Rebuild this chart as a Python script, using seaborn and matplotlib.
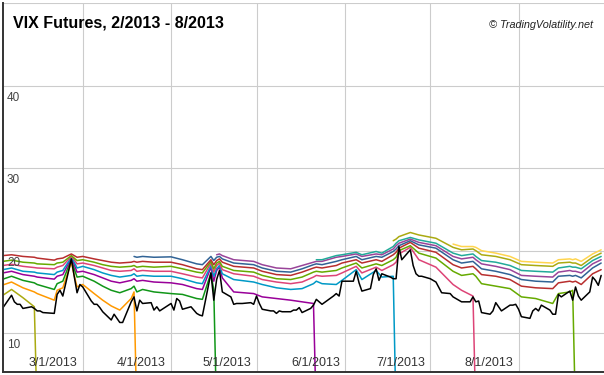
import numpy as np
import pandas as pd
import matplotlib
matplotlib.use("Agg")
import matplotlib.pyplot as plt
from matplotlib.transforms import ScaledTranslation
import seaborn as sns

nan = float("nan")

# ---------------- data ----------------
title = "VIX Futures, 2/2013 - 8/2013"
credit = "\u00a9 TradingVolatility.net"

x_tick_dates = ["2013-03-01", "2013-04-01", "2013-05-01", "2013-06-01", "2013-07-01", "2013-08-01"]
x_tick_labels = ["3/1/2013", "4/1/2013", "5/1/2013", "6/1/2013", "7/1/2013", "8/1/2013"]
y_ticks = [10, 20, 30, 40, 50]
y_tick_labels = ["10", "20", "30", "40", ""]

holidays = ["2013-02-18", "2013-03-29", "2013-05-27", "2013-07-04"]

vix_feb = [13.1, 14.6, 13.8, 13.5, 13.5, 13.0, 13.2, 13.0, 12.7, 12.7, 12.5, 12.4, 14.7, 15.2, 14.5, 19.0, 16.9, 14.9, 15.9]
vix_mar = [15.6, 13.9, 13.5, 13.5, 13.1, 12.6, 11.6, 12.3, 11.8, 11.3, 11.3, 13.8, 14.4, 12.7, 14.0, 13.6, 13.7, 12.8, 13.2, 12.7]
vix_apr = [13.6, 12.8, 14.2, 13.9, 12.9, 13.2, 12.8, 12.4, 12.2, 12.1, 17.3, 14.0, 16.5, 17.6, 15.0, 14.4, 13.5, 13.6, 13.6, 13.6, 13.7, 13.5]
vix_may = [14.5, 13.6, 12.9, 12.7, 12.7, 12.4, 12.7, 12.6, 12.6, 12.8, 12.8, 13.1, 12.5, 13.0, 13.4, 14.1, 13.8, 13.5, 14.5, 14.8, 14.5, 16.3]
vix_jun = [16.3, 16.3, 17.5, 16.1, 15.1, 15.4, 17.1, 17.8, 16.4, 17.2, 16.8, 16.6, 16.6, 20.5, 18.9, 20.1, 18.2, 17.2, 16.9, 16.9]
vix_jul = [16.6, 16.4, 16.2, 14.9, 14.8, 14.4, 14.2, 14.0, 13.8, 13.8, 14.4, 13.8, 13.9, 12.5, 12.3, 12.7, 13.7, 13.2, 12.7, 13.4, 13.4, 13.5]
vix_aug = [12.9, 12.0, 11.8, 12.7, 13.0, 12.7, 13.4, 12.8, 12.3, 12.3, 14.7, 14.4, 15.1, 14.0, 15.6, 14.5, 14.0, 15.0, 16.8, 16.4, 15.8, 17.0]

fut_dates = ["2013-02-01", "2013-02-04", "2013-02-08", "2013-02-12", "2013-02-13", "2013-02-19", "2013-02-20", "2013-02-22",
             "2013-02-25", "2013-02-26", "2013-02-27", "2013-03-01", "2013-03-05", "2013-03-08", "2013-03-11", "2013-03-14",
             "2013-03-18", "2013-03-19", "2013-03-20", "2013-03-22", "2013-03-26", "2013-04-01", "2013-04-05", "2013-04-10",
             "2013-04-12", "2013-04-15", "2013-04-16", "2013-04-17", "2013-04-18", "2013-04-19", "2013-04-23", "2013-04-30",
             "2013-05-03", "2013-05-08", "2013-05-13", "2013-05-17", "2013-05-21", "2013-05-22", "2013-05-24", "2013-05-29",
             "2013-05-31", "2013-06-05", "2013-06-07", "2013-06-12", "2013-06-14", "2013-06-18", "2013-06-19", "2013-06-20",
             "2013-06-24", "2013-06-27", "2013-07-03", "2013-07-09", "2013-07-12", "2013-07-16", "2013-07-17", "2013-07-19",
             "2013-07-24", "2013-07-29", "2013-08-02", "2013-08-07", "2013-08-13", "2013-08-15", "2013-08-19", "2013-08-20",
             "2013-08-21", "2013-08-23", "2013-08-27", "2013-08-30"]

feb13 = [14.6, 15.3, 14.3, 13.2, 0] + [nan] * 63
mar13 = [15.85, 16.2, 15.5, 15.0, 14.8, 14.0, 15.2, 15.5, 18.6, 17.0, 15.6, 15.9, 14.8, 14.0, 13.3, 12.8, 14.2, 15.0, 0] + [nan] * 49
apr13 = [16.55, 16.9, 16.4, 16.1, 15.9, 15.3, 16.0, 16.3, 19.0, 17.8, 16.8, 16.9, 16.3, 15.7, 15.2, 14.9, 15.4, 15.7, 15.0, 15.3,
         15.0, 14.8, 14.7, 14.2, 14.1, 17.3, 15.2, 0] + [nan] * 40
may13 = [17.3, 17.5, 17.1, 16.9, 16.8, 16.55, 16.9, 17.1, 19.1, 18.3, 17.4, 17.5, 17.1, 16.7, 16.3, 16.1, 16.4, 16.6, 16.3, 16.4,
         16.2, 16.1, 15.9, 15.4, 15.3, 18.0, 16.3, 17.6, 18.0, 16.7, 15.0, 14.8, 14.4, 14.2, 14.0, 13.8, 13.6, 0] + [nan] * 30
jun13 = [17.7, 17.9, 17.5, 17.4, 17.3, 17.1, 17.4, 17.6, 19.2, 18.6, 17.9, 18.1, 17.7, 17.3, 17.0, 16.8, 17.0, 17.2, 16.9, 17.0,
         16.9, 16.9, 16.6, 16.1, 16.0, 18.2, 16.9, 17.8, 18.2, 17.2, 16.5, 16.2, 15.9, 15.5, 15.3, 15.4, 16.0, 16.3, 16.0, 15.9,
         16.4, 17.7, 16.5, 17.6, 16.8, 16.9, 0] + [nan] * 21
jul13 = [18.2, 18.35, 18.1, 17.95, 17.9, 17.8, 18.0, 18.2, 19.3, 18.9, 18.4, 18.5, 18.2, 17.9, 17.6, 17.5, 17.6, 17.8, 17.5, 17.6,
         17.5, 17.5, 17.2, 16.8, 16.7, 18.5, 17.4, 18.2, 18.5, 17.7, 17.2, 16.9, 16.5, 16.2, 16.0, 16.2, 16.8, 17.0, 16.9, 17.0,
         17.3, 18.1, 17.3, 18.0, 17.6, 18.3, 18.6, 19.6, 20.4, 18.9, 18.0, 15.9, 15.2, 14.5, 0] + [nan] * 13
aug13 = [18.7, 18.85, 18.6, 18.5, 18.4, 18.3, 18.5, 18.6, 19.4, 19.1, 18.8, 18.9, 18.6, 18.3, 18.1, 18.0, 18.1, 18.2, 18.0, 18.1,
         18.0, 18.1, 17.8, 17.4, 17.3, 18.7, 17.8, 18.5, 18.7, 18.1, 17.6, 17.4, 17.0, 16.6, 16.5, 16.8, 17.4, 17.5, 17.4, 17.6,
         17.9, 18.5, 17.9, 18.4, 18.2, 18.9, 19.2, 20.0, 20.6, 19.7, 19.1, 17.5, 17.0, 17.2, 16.9, 16.0, 15.7, 15.4, 14.4, 14.2,
         13.6, 14.8, 15.0, 15.2, 0] + [nan] * 3
sep13 = [19.4, 19.5, 19.3, 19.2, 19.1, 18.85, 19.0, 19.1, 19.6, 19.4, 19.2, 19.3, 19.0, 18.8, 18.6, 18.5, 18.6, 18.7, 18.6, 18.7,
         18.6, 18.6, 18.3, 17.8, 17.7, 18.9, 18.3, 18.8, 19.0, 18.6, 18.1, 17.9, 17.5, 17.1, 17.0, 17.4, 17.9, 18.0, 17.9, 18.2,
         18.5, 18.9, 18.5, 18.9, 18.7, 19.5, 19.8, 20.3, 21.0, 20.3, 19.8, 18.3, 17.9, 18.1, 17.8, 17.1, 16.9, 16.5, 15.7, 15.5,
         15.4, 16.1, 16.3, 16.2, 16.3, 15.9, 17.2, 17.7]
oct13 = [nan] * 17 + [19.3, 19.2, 19.3, 19.2, 19.25, 18.9, 18.4, 18.3, 19.3, 18.8, 19.2, 19.3, 19.0, 18.5, 18.3, 17.9, 17.5,
                      17.4, 17.8, 18.3, 18.4, 18.3, 18.7, 18.9, 19.3, 18.9, 19.3, 19.2, 19.9, 20.2, 20.6, 21.2, 20.7, 20.3,
                      18.9, 18.5, 18.7, 18.4, 17.8, 17.5, 17.1, 16.5, 16.3, 16.2, 16.9, 17.0, 16.9, 17.0, 16.7, 17.9, 18.5]
nov13 = [nan] * 27 + [19.5, 19.6, 19.4, 18.9, 18.7, 18.3, 17.9, 17.8, 18.2, 18.6, 18.7, 18.7, 19.2, 19.3, 19.6, 19.3, 19.6,
                      19.5, 20.2, 20.6, 20.9, 21.4, 21.0, 20.6, 19.3, 19.0, 19.2, 18.9, 18.4, 18.1, 17.7, 17.0, 16.9, 16.8,
                      17.4, 17.6, 17.5, 17.5, 17.3, 18.4, 18.9]
dec13 = [nan] * 37 + [18.9, 18.9, 19.4, 19.5, 19.8, 19.5, 19.9, 19.7, 20.5, 20.9, 21.2, 21.6, 21.3, 20.9, 19.7, 19.4, 19.6,
                      19.3, 18.8, 18.6, 18.2, 17.6, 17.5, 17.4, 17.9, 18.1, 18.0, 18.0, 17.8, 18.8, 19.3]
jan14 = [nan] * 45 + [21.2, 21.4, 21.7, 22.2, 21.9, 21.5, 20.4, 20.1, 20.2, 20.0, 19.5, 19.3, 18.9, 18.3, 18.2, 18.1, 18.5,
                      18.6, 18.5, 18.5, 18.2, 19.2, 19.7]
feb14 = [nan] * 51 + [20.8, 20.5, 20.5, 20.4, 20.0, 19.7, 19.3, 18.7, 18.6, 18.5, 18.9, 19.0, 18.9, 19.0, 18.7, 19.6, 20.1]

series_colors = {
    "Feb13": "#aaaa11", "Mar13": "#ff9900", "Apr13": "#109618", "May13": "#990099",
    "Jun13": "#0099c6", "Jul13": "#dd4477", "Aug13": "#66aa00", "Sep13": "#b82e2e",
    "Oct13": "#316395", "Nov13": "#994499", "Dec13": "#22aa99", "Jan14": "#aaaa11",
    "Feb14": "#ffd54f", "VIX": "#000000",
}

# ---------------- frame ----------------
vix_dates = pd.bdate_range("2013-02-01", "2013-08-30")
vix_dates = vix_dates[~vix_dates.isin(pd.to_datetime(holidays))]
vix_vals = vix_feb + vix_mar + vix_apr + vix_may + vix_jun + vix_jul + vix_aug
assert len(vix_vals) == len(vix_dates)

futures = {"Feb13": feb13, "Mar13": mar13, "Apr13": apr13, "May13": may13, "Jun13": jun13,
           "Jul13": jul13, "Aug13": aug13, "Sep13": sep13, "Oct13": oct13, "Nov13": nov13,
           "Dec13": dec13, "Jan14": jan14, "Feb14": feb14}
fd = pd.to_datetime(fut_dates)
frames = []
for name, vals in futures.items():
    assert len(vals) == len(fd), name
    frames.append(pd.DataFrame({"date": fd, "value": vals, "series": name}))
frames.append(pd.DataFrame({"date": vix_dates, "value": vix_vals, "series": "VIX"}))
df = pd.concat(frames, ignore_index=True).dropna()

# ---------------- plot ----------------
sns.set_theme(style="white")
plt.rcParams["font.family"] = ["Liberation Sans", "DejaVu Sans"]

W, H = 604, 375
fig = plt.figure(figsize=(W / 100, H / 100), dpi=100)
rect = [3 / W, 3 / H, 601 / W, 369 / H]
ax = fig.add_axes(rect)

order = list(futures.keys()) + ["VIX"]
sns.lineplot(data=df, x="date", y="value", hue="series", hue_order=order,
             palette=series_colors, estimator=None, legend=False, linewidth=1.1, ax=ax)

xlim = (pd.Timestamp("2013-02-01"), pd.Timestamp("2013-08-31"))
ylim = (5.3, 50)
ax.set_xlim(*xlim)
ax.set_ylim(*ylim)
ax.set_xlabel("")
ax.set_ylabel("")
ax.set_yticks(y_ticks)
ax.set_xticks(pd.to_datetime(x_tick_dates))
ax.grid(True, color="#cccccc", linewidth=0.8)
ax.set_axisbelow(True)
ax.tick_params(axis="both", length=0, labelleft=False, labelbottom=False)
for s in ["top", "right"]:
    ax.spines[s].set_visible(False)
for s in ["left", "bottom"]:
    ax.spines[s].set_color("#333333")
    ax.spines[s].set_linewidth(1.4)
    ax.spines[s].set_zorder(5)

# overlay axes carrying the tick labels above the lines
ax2 = fig.add_axes(rect, zorder=ax.get_zorder() + 1)
ax2.patch.set_visible(False)
ax2.set_xlim(ax.get_xlim())
ax2.set_ylim(*ylim)
for s in ax2.spines.values():
    s.set_visible(False)
ax2.set_yticks(y_ticks)
ax2.set_yticklabels(y_tick_labels)
ax2.set_xticks(ax.get_xticks())
ax2.set_xticklabels(x_tick_labels)
ax2.grid(False)
ax2.tick_params(axis="both", length=0, pad=0)
for lab in ax2.get_yticklabels():
    lab.set_ha("left")
    lab.set_fontsize(8.5)
    lab.set_color("#444444")
    lab.set_transform(lab.get_transform() + ScaledTranslation(4 / 100, -10.5 / 100, fig.dpi_scale_trans))
for lab in ax2.get_xticklabels():
    lab.set_ha("right")
    lab.set_fontsize(9)
    lab.set_color("#333333")
    lab.set_transform(lab.get_transform() + ScaledTranslation(-5 / 100, 15 / 100, fig.dpi_scale_trans))

fig.text(13 / W, 1 - 27.5 / H, title, fontsize=11.5, fontweight="bold", color="#000000",
         ha="left", va="baseline")
fig.text(593 / W, 1 - 28.5 / H, credit, fontsize=7.8, fontstyle="italic", color="#222222",
         ha="right", va="baseline")

fig.savefig("out.png", dpi=100)
